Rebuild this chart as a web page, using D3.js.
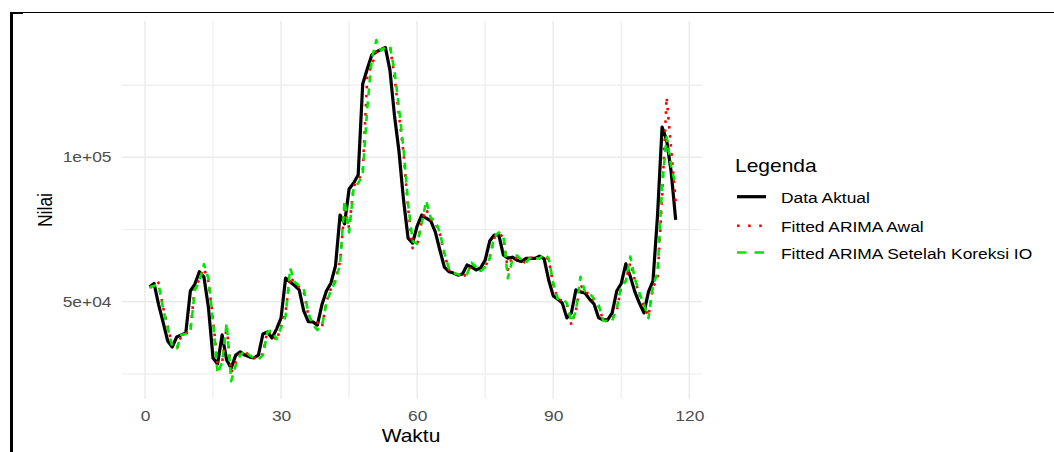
<!DOCTYPE html>
<html>
<head>
<meta charset="utf-8">
<script src="https://cdn.jsdelivr.net/npm/d3@7"></script>
<style>
  body { margin: 0; background: #fff; }
  svg { display: block; font-family: "Liberation Sans", Arial, sans-serif; }
</style>
</head>
<body>
<div id="chart"></div>
<script>
// values
const dataAktual = [
  55100, 56300, 49000, 42800, 36400, 34300, 37800, 38500, 39200, 53700,
  56100, 60400, 58500, 47800, 30500, 28400, 38500, 29800, 27000, 31500,
  32600, 31500, 30900, 30500, 31500, 38800, 39500, 37400, 40500, 44400,
  58200, 56800, 55600, 54100, 46800, 43100, 43000, 41900, 48900, 53700,
  56500, 62400, 80000, 77000, 89000, 91100, 93900, 125400, 130600, 135400,
  136500, 137300, 138000, 130200, 114500, 102000, 85200, 72000, 70300, 76200,
  80000, 78900, 78000, 74200, 67900, 62000, 60400, 59900, 59200, 59600,
  62700, 62000, 61000, 61700, 64400, 71000, 73100, 73100, 66200, 65100,
  65400, 64400, 63900, 65000, 65000, 65000, 65800, 64800, 57500, 52000,
  50900, 49500, 44400, 46100, 54100, 53400, 53000, 50900, 49200, 44400,
  43700, 43700, 46100, 53700, 56300, 63100, 58700, 53400, 49500, 46100,
  53400, 57200, 80000, 110500, 106000, 95000, 78300
];

const fittedAwal = [
  55000, 55200, 56600, 48000, 41500, 35000, 33500, 38200, 39000, 40000,
  55500, 57500, 61500, 57000, 44000, 28500, 29000, 41500, 25500, 29000,
  32000, 32800, 31300, 30700, 30300, 32000, 40000, 39500, 36500, 41500,
  46500, 58700, 56500, 55000, 53500, 45500, 42500, 42800, 41000, 50000,
  54500, 57500, 64000, 82000, 75500, 90000, 92000, 95000, 128000, 132000,
  136500, 137000, 138000, 138500, 128000, 114500, 101500, 82500, 68500, 69500,
  78000, 82000, 78500, 77500, 73500, 66500, 61000, 59500, 59500, 58800,
  59500, 63500, 61500, 60800, 62000, 65500, 72000, 73500, 72500, 61000,
  65800, 65000, 64000, 63500, 65200, 65000, 65000, 66000, 64500, 56000,
  50800, 50500, 49000, 42000, 47000, 56000, 53200, 52800, 50500, 48500,
  43500, 43500, 43800, 47000, 55000, 57500, 63500, 57500, 52500, 48500,
  45000, 55000, 58000, 86000, 120800, 103000, 84600
];

const fittedKoreksi = [
  55000, 55500, 56000, 47500, 41000, 34500, 33800, 38500, 38800, 39500,
  54000, 57000, 63000, 58000, 43000, 25200, 29000, 42500, 22500, 28000,
  31500, 33000, 31500, 30500, 30000, 31500, 39500, 40000, 37000, 41000,
  45000, 61600, 56800, 55500, 54500, 46000, 42000, 40200, 41500, 49500,
  54000, 57000, 63000, 85000, 74000, 89500, 91000, 94000, 117000, 134000,
  140600, 137000, 138000, 138500, 130000, 117000, 103000, 84000, 71000, 70000,
  77000, 85000, 79000, 78000, 74000, 67000, 61500, 60000, 59500, 59000,
  59500, 63500, 62000, 60500, 62000, 65000, 72500, 74000, 73000, 58100,
  64500, 66000, 64500, 63500, 65500, 65000, 65000, 66500, 65000, 56500,
  51000, 51000, 49500, 43000, 46500, 58600, 53500, 53000, 51000, 49000,
  43500, 43000, 43500, 47500, 55500, 57000, 65600, 58000, 53000, 49000,
  44300, 55500, 60000, 90000, 107000, 97000, 90000
];

const xTicks = [0, 30, 60, 90, 120];
const xMinorTicks = [15, 45, 75, 105];
const yTicks = [50000, 100000];
const yTickLabels = ["5e+04", "1e+05"];
const yMinorTicks = [25000, 75000, 125000];

const seriesNames = ["Data Aktual", "Fitted ARIMA Awal", "Fitted ARIMA Setelah Koreksi IO"];

const width = 1054;
const height = 452;
const panel = { left: 122, right: 702, top: 21, bottom: 399 };
const stretch = 1.2; // the reference is a bit wider than tall

const seriesStyle = [
  { color: "#000000", width: 3.2, dash: null },
  { color: "#ff0000", width: 2.6, dash: "2.6,6.5" },
  { color: "#00e600", width: 2.6, dash: "7,6" },
];

const svg = d3.select("#chart")
  .append("svg")
  .attr("width", width)
  .attr("height", height);

const x = d3.scaleLinear().domain([-5.07, 122.8]).range([panel.left, panel.right]);
const y = d3.scaleLinear().domain([16300, 147200]).range([panel.bottom, panel.top]);

// grid, minor first then major
const grid = svg.append("g");
grid.selectAll("line.vminor")
  .data(xMinorTicks)
  .enter().append("line")
  .attr("x1", (d) => x(d)).attr("x2", (d) => x(d))
  .attr("y1", panel.top).attr("y2", panel.bottom)
  .attr("stroke", "#eeeeee").attr("stroke-width", 1.2);
grid.selectAll("line.hminor")
  .data(yMinorTicks)
  .enter().append("line")
  .attr("x1", panel.left).attr("x2", panel.right)
  .attr("y1", (d) => y(d)).attr("y2", (d) => y(d))
  .attr("stroke", "#eeeeee").attr("stroke-width", 1.2);
grid.selectAll("line.vmajor")
  .data(xTicks)
  .enter().append("line")
  .attr("x1", (d) => x(d)).attr("x2", (d) => x(d))
  .attr("y1", panel.top).attr("y2", panel.bottom)
  .attr("stroke", "#ebebeb").attr("stroke-width", 1.5);
grid.selectAll("line.hmajor")
  .data(yTicks)
  .enter().append("line")
  .attr("x1", panel.left).attr("x2", panel.right)
  .attr("y1", (d) => y(d)).attr("y2", (d) => y(d))
  .attr("stroke", "#ebebeb").attr("stroke-width", 1.5);

// axes
const xAxis = svg.append("g")
  .attr("transform", `translate(0, ${panel.bottom})`)
  .call(d3.axisBottom(x).tickValues(xTicks).tickSize(0).tickPadding(11.5));
const yAxis = svg.append("g")
  .attr("transform", "translate(111.5, 0)")
  .call(d3.axisLeft(y).tickValues(yTicks).tickSize(0).tickPadding(0)
    .tickFormat((d, i) => yTickLabels[i]));

[xAxis, yAxis].forEach((axis) => {
  axis.select(".domain").remove();
  axis.selectAll("text")
    .attr("fill", "#4d4d4d")
    .attr("font-size", "14.5px")
    .attr("transform", `scale(${stretch},1)`);
});

// series lines
const line = d3.line()
  .x((d, i) => x(i + 1))
  .y((d) => y(d));

[dataAktual, fittedAwal, fittedKoreksi].forEach((values, i) => {
  const s = seriesStyle[i];
  svg.append("path")
    .datum(values)
    .attr("d", line)
    .attr("fill", "none")
    .attr("stroke", s.color)
    .attr("stroke-width", s.width)
    .attr("stroke-linejoin", "round")
    .attr("stroke-dasharray", s.dash);
});

// axis titles
svg.append("text")
  .attr("transform", `translate(411, 441.5) scale(${stretch},1)`)
  .attr("text-anchor", "middle")
  .attr("font-size", "17.5px")
  .attr("fill", "#000")
  .text("Waktu");

svg.append("text")
  .attr("transform", `translate(51.5, 210) scale(${stretch},1) rotate(-90)`)
  .attr("text-anchor", "middle")
  .attr("font-size", "17.5px")
  .attr("fill", "#000")
  .text("Nilai");

// legend
const legend = svg.append("g").attr("transform", "translate(735, 0)");
legend.append("text")
  .attr("transform", `translate(0, 172) scale(${stretch},1)`)
  .attr("font-size", "17.5px")
  .attr("fill", "#000")
  .text("Legenda");

const keyY = [196.7, 225.7, 252.5];
seriesNames.forEach((name, i) => {
  const s = seriesStyle[i];
  legend.append("line")
    .attr("x1", 2).attr("x2", 31)
    .attr("y1", keyY[i]).attr("y2", keyY[i])
    .attr("stroke", s.color)
    .attr("stroke-width", i === 0 ? 3.2 : 2.6)
    .attr("stroke-dasharray", i === 0 ? null : (i === 1 ? "2.6,8.5" : "9.5,8"));
  legend.append("text")
    .attr("transform", `translate(46, ${keyY[i] + 6.5}) scale(${stretch},1)`)
    .attr("font-size", "14.5px")
    .attr("fill", "#000")
    .text(name);
});

// outer frame visible in the reference (top and left edges)
svg.append("line")
  .attr("x1", 10).attr("x2", width)
  .attr("y1", 12.5).attr("y2", 12.5)
  .attr("stroke", "#000").attr("stroke-width", 1.2);
svg.append("line")
  .attr("x1", 11.5).attr("x2", 11.5)
  .attr("y1", 12).attr("y2", height)
  .attr("stroke", "#000").attr("stroke-width", 3);
svg.append("line")
  .attr("x1", 10).attr("x2", 23)
  .attr("y1", 13).attr("y2", 13)
  .attr("stroke", "#000").attr("stroke-width", 2);
</script>
</body>
</html>
